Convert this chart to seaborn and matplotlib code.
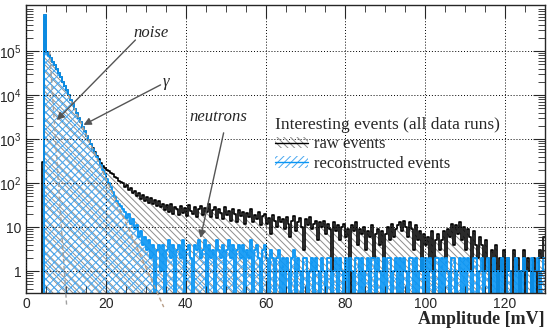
import numpy as np
import pandas as pd
import matplotlib
matplotlib.use("Agg")
import matplotlib.pyplot as plt
from matplotlib.lines import Line2D
from matplotlib.patches import Patch
from matplotlib.ticker import MultipleLocator, LogLocator, FixedLocator, FixedFormatter, NullFormatter
import seaborn as sns

# amplitude histogram, 0.5 mV bins starting at 3.5 mV
bin_start = 3.5
bin_width = 0.5

raw_counts = [0,
    300, 650000, 95000, 80000, 68000, 56000, 47000, 39000, 32000, 25500, 20000, 16000, 12700, 10000, 7900, 6200, 4900, 3900, 3050, 2400,
    1900, 1500, 1180, 940, 760, 610, 500, 415, 345, 290, 240, 215, 200, 188, 172, 158, 138, 128, 112, 104,
    98, 80, 90, 68, 76, 58, 66, 50, 58, 44, 52, 38, 48, 36, 45, 33, 41, 30, 38, 28,
    34, 24, 31, 22, 33, 20, 29, 25, 19, 30, 21, 27, 18, 32, 23, 20, 28, 17, 26, 30,
    19, 27, 22, 33, 17, 24, 29, 16, 26, 21, 15, 28, 19, 23, 14, 25, 20, 13, 24, 18,
    22, 12, 21, 17, 25, 13, 19, 15, 22, 11, 18, 20, 12, 16, 7, 19, 14, 10, 17, 13,
    15, 9, 17, 12, 6, 14, 18, 8, 13, 16, 10, 3, 15, 11, 17, 9, 12, 14, 5, 13,
    10, 14, 7, 12, 9, 1, 13, 8, 11, 5, 10, 12, 6, 9, 0, 11, 8, 13, 4, 9,
    7, 10, 3, 8, 6, 11, 2, 7, 9, 4, 8, 1, 7, 10, 5, 12, 6, 9, 11, 13,
    8, 14, 10, 6, 13, 9, 3, 11, 5, 8, 1, 7, 4, 6, 2, 8, 0, 5, 7, 3,
    5, 8, 2, 9, 6, 12, 4, 11, 7, 13, 5, 10, 3, 9, 6, 1, 8, 4, 2, 6,
    4, 1, 5, 2, 0, 3, 1, 4, 0, 2, 1, 3, 0, 2, 1, 0, 3, 1, 2, 0,
    1, 3, 0, 2, 1, 0, 2, 1, 0, 3, 2, 6]

reco_counts = [0,
    0, 650000, 95000, 79000, 68000, 56000, 47000, 39000, 31000, 25500, 20000, 16000, 12700, 10000, 7900, 6200, 4900, 3900, 3050, 2400,
    1900, 1500, 1180, 940, 760, 605, 480, 390, 310, 250, 200, 160, 125, 100, 80, 62, 48, 40, 33, 30,
    25, 22, 16, 20, 12, 15, 9, 11, 6, 8, 4, 6, 3, 5, 2, 4, 0, 3, 4, 1,
    4, 0, 3, 5, 2, 4, 0, 3, 4, 2, 5, 0, 3, 4, 2, 0, 4, 3, 5, 2,
    3, 5, 0, 4, 2, 3, 0, 5, 3, 2, 4, 0, 3, 5, 2, 4, 0, 3, 4, 2,
    4, 0, 3, 2, 5, 0, 3, 4, 2, 0, 3, 4, 2, 0, 3, 2, 0, 2, 3, 0,
    2, 0, 2, 1, 0, 2, 3, 0, 2, 1, 0, 2, 2, 0, 1, 2, 0, 2, 1, 0,
    2, 1, 0, 2, 2, 0, 1, 2, 0, 2, 1, 0, 2, 0, 2, 1, 0, 2, 2, 0,
    2, 0, 1, 2, 0, 2, 2, 0, 2, 1, 0, 2, 0, 2, 2, 0, 1, 2, 0, 2,
    0, 2, 1, 0, 2, 2, 0, 2, 0, 1, 2, 0, 2, 0, 2, 1, 0, 2, 2, 0,
    2, 0, 2, 1, 0, 2, 2, 0, 1, 2, 0, 2, 0, 2, 1, 0, 2, 2, 0, 1,
    2, 0, 1, 2, 0, 0, 2, 0, 1, 0, 2, 0, 0, 2, 1, 0, 0, 2, 0, 1,
    0, 2, 1, 0, 0, 2, 0, 1, 2, 0, 1, 2]

# exponential fits drawn as dashed lines (mV, counts)
noise_fit_x = [5.9, 10.2]
noise_fit_y = [1e5, 10 ** -0.82]
gamma_fit_x = [10.6, 34.5]
gamma_fit_y = [1e4, 10 ** -0.82]

ytick_vals = [1, 10, 1e2, 1e3, 1e4, 1e5]
ytick_labels = ['1', '10', '$10^2$', '$10^3$', '$10^4$', '$10^5$']

sns.set_style('ticks')
plt.rcParams['font.family'] = ['Liberation Sans', 'DejaVu Sans']
plt.rcParams['mathtext.default'] = 'regular'
plt.rcParams['hatch.linewidth'] = 0.7

edges = bin_start + bin_width * np.arange(len(raw_counts) + 1)
centers = edges[:-1] + bin_width / 2
df = pd.DataFrame({'amp': centers, 'raw': raw_counts, 'reco': reco_counts})
bin_list = list(edges)

blue = '#0a96f5'
raw_hatch = '#8c8c8c'
reco_hatch = '#4aa8f0'

fig = plt.figure(figsize=(5.5, 3.3), dpi=100)
ax = fig.add_axes([0.0473, 0.1121, 0.9436, 0.8727])


def hatched_hist(col, hatch_color, hatch):
    sns.histplot(data=df, x='amp', weights=col, bins=bin_list, element='step', fill=True,
                 color=hatch_color, ax=ax)
    poly = ax.collections[-1]
    poly.set_facecolor('none')
    poly.set_edgecolor(hatch_color)
    poly.set_linewidth(0)
    poly.set_hatch(hatch)


hatched_hist('raw', raw_hatch, '\\' * 5)
hatched_hist('reco', reco_hatch, 'xxxx')
sns.histplot(data=df, x='amp', weights='raw', bins=bin_list, element='step', fill=False,
             color='black', linewidth=1.2, ax=ax)
sns.histplot(data=df, x='amp', weights='reco', bins=bin_list, element='step', fill=False,
             color=blue, linewidth=1.3, ax=ax)

ax.plot(noise_fit_x, noise_fit_y, ls=(0, (3, 2)), color='#a0a0a0', lw=1, clip_on=False, zorder=3)
ax.plot(gamma_fit_x, gamma_fit_y, ls=(0, (3, 2)), color='#b89e88', lw=1, clip_on=False, zorder=3)

ax.set_yscale('log')
ax.set_xlim(0, 130)
ax.set_ylim(10 ** -0.5, 10 ** 6.045)

ax.xaxis.set_major_locator(MultipleLocator(20))
ax.xaxis.set_minor_locator(MultipleLocator(5))
ax.yaxis.set_major_locator(FixedLocator(ytick_vals))
ax.yaxis.set_major_formatter(FixedFormatter(ytick_labels))
ax.yaxis.set_minor_locator(LogLocator(base=10, subs=np.arange(2, 10), numticks=20))
ax.yaxis.set_minor_formatter(NullFormatter())
ax.tick_params(which='both', direction='in', top=True, right=True, labelsize=10, pad=3)
ax.tick_params(which='major', length=9, width=0.8)
ax.tick_params(which='minor', length=5, width=0.6)
ax.grid(True, which='major', color='black', linestyle=(0, (1, 2)), linewidth=0.7)
ax.set_axisbelow(False)
for s in ax.spines.values():
    s.set_linewidth(1.0)

ax.set_ylabel('')
ax.set_xlabel('Amplitude [mV]', loc='right', fontsize=13, fontweight='bold',
              family='Liberation Serif', labelpad=0)

# annotations
arrow = dict(arrowstyle='-|>', color='#555555', lw=1, mutation_scale=11, shrinkA=0, shrinkB=0)
ax.text(31.2, 10 ** 5.41, 'noise', style='italic', family='Liberation Serif', fontsize=12,
        ha='center', va='center')
ax.annotate('', xy=(7.7, 10 ** 3.43), xytext=(27.4, 10 ** 5.25), arrowprops=arrow)
ax.text(35.1, 10 ** 4.3, 'γ', style='italic', family='Liberation Serif', fontsize=12,
        ha='center', va='center')
ax.annotate('', xy=(14.4, 10 ** 3.32), xytext=(33.7, 10 ** 4.23), arrowprops=arrow)
ax.text(48.2, 10 ** 3.5, 'neutrons', style='italic', family='Liberation Serif', fontsize=12,
        ha='center', va='center')
ax.annotate('', xy=(43.7, 10 ** 0.75), xytext=(49.5, 10 ** 3.14), arrowprops=arrow)

handles = [
    (Patch(facecolor='none', edgecolor=raw_hatch, hatch='\\' * 5, linewidth=0),
     Line2D([], [], color='black', lw=1)),
    (Patch(facecolor='none', edgecolor=reco_hatch, hatch='/' * 5, linewidth=0),
     Line2D([], [], color=blue, lw=1)),
]
leg = ax.legend(handles, ['raw events', 'reconstructed events'],
                title='Interesting events (all data runs)', loc='upper left',
                bbox_to_anchor=(0.48, 0.611), frameon=False, borderpad=0, borderaxespad=0,
                prop={'family': 'Liberation Serif', 'size': 12}, handlelength=2.0,
                handleheight=0.7, handletextpad=0.35, labelspacing=0.2, alignment='left')
leg.get_title().set_fontfamily('Liberation Serif')
leg.get_title().set_fontsize(12.5)

fig.savefig('out.png', dpi=100)
